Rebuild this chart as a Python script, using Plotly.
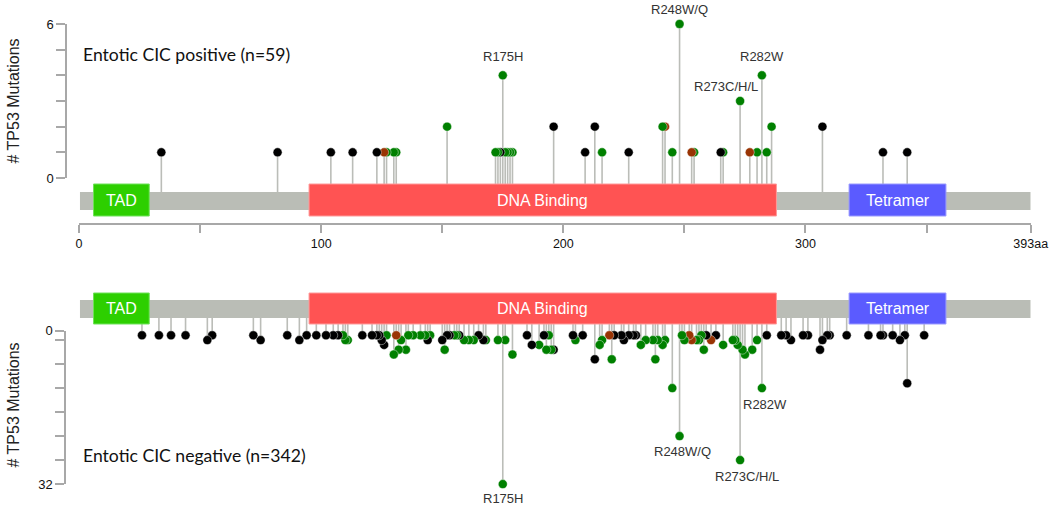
import plotly.graph_objects as go

# ---------------- data ----------------
PROTEIN_LEN = 393
DOMAIN_NAMES = ["TAD", "DNA Binding", "Tetramer"]
DOMAIN_START = [6, 95, 318]
DOMAIN_END = [29, 288, 358]
DOMAIN_COLORS = ["#2dcf00", "#ff5353", "#5b5bff"]
DOMAIN_EDGES = ["#6fe25a", "#ff9a9a", "#9a9aff"]

X_TICKVALS = [0, 50, 100, 150, 200, 250, 300, 350, 393]
X_TICKTEXT = ["0", "", "100", "", "200", "", "300", "", "393aa"]

# Entotic CIC positive (n=59): position, count, type (M=missense, T=truncating, I=inframe)
TOP_POS = [34, 82, 104, 113, 123, 126, 127, 130, 131, 152, 172, 173, 174, 175, 176, 177, 178, 179,
           196, 209, 213, 216, 227, 241, 242, 245, 248, 253, 254, 265, 266, 273, 277, 280, 282,
           284, 286, 307, 332, 342]
TOP_CNT = [1, 1, 1, 1, 1, 1, 1, 1, 1, 2, 1, 1, 1, 4, 1, 1, 1, 1,
           2, 1, 2, 1, 1, 2, 2, 1, 6, 1, 1, 1, 1, 3, 1, 1, 4,
           1, 2, 2, 1, 1]
TOP_TYPE = ["T", "T", "T", "T", "T", "I", "M", "M", "M", "M", "M", "M", "T", "M", "M", "M", "M", "M",
            "T", "T", "T", "M", "T", "M", "I", "M", "M", "I", "M", "T", "M", "M", "I", "M", "M",
            "M", "M", "T", "T", "T"]
TOP_LABELS = ["R175H", "R248W/Q", "R273C/H/L", "R282W"]
TOP_LABEL_POS = [175, 248, 273, 282]

# Entotic CIC negative (n=342)
BOT_POS = [26, 33, 38, 44, 53, 55, 72, 75, 86, 91, 94, 98, 102, 105, 107, 109, 110, 111, 117, 121,
           123, 124, 125, 126, 127, 130, 131, 132, 133, 135, 136, 138, 141, 143, 144, 145, 150, 151,
           152, 153, 155, 156, 157, 159, 161, 163, 165, 167, 168, 173, 175, 176, 179, 185, 187, 190,
           192, 193, 194, 195, 196, 204, 205, 208, 213, 215, 216, 219, 220, 221, 224, 225, 227, 229,
           230, 232, 234, 237, 238, 239, 241, 242, 245, 248, 249, 250, 252, 253, 255, 256, 257, 258,
           259, 261, 263, 266, 270, 271, 272, 273, 274, 275, 278, 280, 282, 284, 290, 292, 294, 299,
           301, 306, 307, 309, 310, 317, 326, 331, 332, 336, 339, 341, 342, 349]
BOT_CNT = [1, 1, 1, 1, 2, 1, 1, 2, 1, 2, 1, 1, 1, 1, 1, 1, 2, 2, 1, 1,
           1, 1, 2, 3, 1, 5, 1, 4, 2, 4, 1, 1, 1, 1, 2, 1, 2, 4,
           1, 1, 1, 1, 1, 2, 2, 2, 1, 2, 2, 2, 32, 2, 5, 1, 3, 3,
           1, 4, 1, 4, 4, 1, 2, 1, 6, 3, 2, 1, 6, 1, 1, 2, 1, 1,
           1, 3, 2, 2, 6, 2, 3, 2, 12, 22, 1, 2, 1, 2, 2, 2, 1, 4,
           1, 2, 1, 3, 2, 2, 3, 27, 4, 5, 4, 2, 12, 1, 1, 1, 2, 1,
           1, 4, 2, 1, 1, 1, 1, 1, 1, 1, 2, 1, 11, 1]
BOT_TYPE = ["T", "T", "T", "T", "T", "T", "T", "T", "T", "T", "T", "T", "T", "T", "T", "M", "M", "M", "T", "T",
            "T", "T", "T", "T", "M", "M", "I", "M", "M", "M", "M", "M", "M", "M", "T", "M", "T", "M",
            "T", "T", "M", "M", "T", "M", "M", "M", "T", "T", "M", "M", "M", "M", "M", "T", "T", "M",
            "T", "M", "M", "M", "T", "T", "M", "T", "T", "M", "M", "I", "M", "T", "T", "T", "T", "T",
            "T", "M", "M", "M", "M", "M", "M", "M", "M", "M", "M", "M", "I", "I", "M", "M", "M", "M",
            "T", "I", "T", "M", "M", "M", "M", "M", "M", "M", "M", "M", "M", "T", "T", "T", "T", "T",
            "T", "T", "T", "T", "T", "T", "T", "T", "T", "T", "T", "T", "T", "T"]
BOT_LABELS = ["R175H", "R248W/Q", "R273C/H/L", "R282W"]
BOT_LABEL_POS = [175, 248, 273, 282]

TYPE_COLORS = {"M": "#008000", "T": "#000000", "I": "#993404"}

# ---------------- layout geometry (reference pixels) ----------------
W, H = 1050, 509
XL, XR = 79, 1030.7
def fx(px): return px / W
def fy(py): return 1 - py / H

# top panel
T_ZERO, T_UNIT = 178.0, 25.667
def tv(py): return (T_ZERO - py) / T_UNIT
# bottom panel
B_ZERO, B_UNIT = 330.5, 4.8
def bv(py): return (py - B_ZERO) / B_UNIT

AXC = "#a8a8a8"
FONT = "Arial, Liberation Sans, sans-serif"
STEM = "#bbbdb8"

fig = go.Figure()

def stems(pos, cnt, base):
    xs, ys = [], []
    for p, c in zip(pos, cnt):
        xs += [p, p, None]
        ys += [base, c, None]
    return xs, ys

def ordered(pos, cnt, typ):
    idx = sorted(range(len(pos)), key=lambda i: -pos[i])
    return ([pos[i] for i in idx], [cnt[i] for i in idx], [TYPE_COLORS[typ[i]] for i in idx])

# top stems (drawing axes x/y)
sx, sy = stems(TOP_POS, TOP_CNT, tv(201))
fig.add_trace(go.Scatter(x=sx, y=sy, mode="lines", line=dict(color=STEM, width=1.6),
                         xaxis="x", yaxis="y", hoverinfo="skip", showlegend=False))
# top heads (display axes x2/y2)
px_, py_, pc_ = ordered(TOP_POS, TOP_CNT, TOP_TYPE)
fig.add_trace(go.Scatter(x=px_, y=py_, mode="markers", cliponaxis=False,
                         marker=dict(size=9, color=pc_, line=dict(color="rgba(255,255,255,0.7)", width=0.6)),
                         xaxis="x2", yaxis="y2", showlegend=False))

# bottom stems (x3/y3)
sx, sy = stems(BOT_POS, BOT_CNT, bv(309))
fig.add_trace(go.Scatter(x=sx, y=sy, mode="lines", line=dict(color=STEM, width=1.6),
                         xaxis="x3", yaxis="y3", hoverinfo="skip", showlegend=False))
px_, py_, pc_ = ordered(BOT_POS, BOT_CNT, BOT_TYPE)
fig.add_trace(go.Scatter(x=px_, y=py_, mode="markers", cliponaxis=False,
                         marker=dict(size=9, color=pc_, line=dict(color="rgba(255,255,255,0.7)", width=0.6)),
                         xaxis="x4", yaxis="y4", showlegend=False))

shapes, ann = [], []
# protein backbones and domains
for xref, yref, conv, gy, dy in [("x", "y", tv, (192, 210), (184, 216)),
                                 ("x3", "y3", bv, (300, 318), (293, 324))]:
    shapes.append(dict(type="rect", xref=xref, yref=yref, x0=0.4, x1=PROTEIN_LEN,
                       y0=conv(gy[0]), y1=conv(gy[1]), fillcolor="#babdb6",
                       line=dict(width=0), layer="above"))
    for name, s, e, c, ec in zip(DOMAIN_NAMES, DOMAIN_START, DOMAIN_END, DOMAIN_COLORS, DOMAIN_EDGES):
        shapes.append(dict(type="rect", xref=xref, yref=yref, x0=s, x1=e,
                           y0=conv(dy[0]), y1=conv(dy[1]), fillcolor=c,
                           line=dict(width=1, color=ec), layer="above"))
        ann.append(dict(x=(s + e) / 2, y=conv((dy[0] + dy[1]) / 2), xref=xref, yref=yref,
                        text=name, showarrow=False, font=dict(family=FONT, size=16, color="white")))

# mutation labels
top_off = {175: (0, 19), 248: (0, 14), 273: (-14, 14), 282: (0, 19)}
for lab, p in zip(TOP_LABELS, TOP_LABEL_POS):
    c = TOP_CNT[TOP_POS.index(p)]
    dx, dy = top_off[p]
    ann.append(dict(x=p, y=c, xref="x2", yref="y2", text=lab, showarrow=False,
                    xshift=dx, yshift=dy, font=dict(family=FONT, size=13, color="#333333")))
bot_off = {175: (0, -14), 248: (3, -15), 273: (7, -16), 282: (3, -16)}
for lab, p in zip(BOT_LABELS, BOT_LABEL_POS):
    c = BOT_CNT[BOT_POS.index(p)]
    dx, dy = bot_off[p]
    ann.append(dict(x=p, y=c, xref="x4", yref="y4", text=lab, showarrow=False,
                    xshift=dx, yshift=dy, font=dict(family=FONT, size=13, color="#333333")))

# panel titles
TITLE_FONT = dict(family="Lato, Open Sans, sans-serif", size=17.6, color="#111111")
ann.append(dict(x=fx(81), y=fy(54), xref="paper", yref="paper", xanchor="left", yanchor="middle",
                text="Entotic CIC positive (n=59)", showarrow=False, font=TITLE_FONT))
ann.append(dict(x=fx(81), y=fy(455), xref="paper", yref="paper", xanchor="left", yanchor="middle",
                text="Entotic CIC negative (n=342)", showarrow=False, font=TITLE_FONT))
# y axis titles
for yc in (101, 405):
    ann.append(dict(x=fx(12.5), y=fy(yc), xref="paper", yref="paper", xanchor="center", yanchor="middle",
                    text="# TP53 Mutations", textangle=-90, showarrow=False,
                    font=dict(family=FONT, size=16, color="#222222")))

xdom = [fx(XL), fx(XR)]
hidden = dict(visible=False, showgrid=False, zeroline=False, automargin=False)
YTICKFONT = dict(family=FONT, size=13, color="#111111")

fig.update_layout(
    template="none",
    width=W, height=H, margin=dict(l=0, r=0, t=0, b=0, pad=0, autoexpand=False),
    paper_bgcolor="white", plot_bgcolor="rgba(0,0,0,0)",
    showlegend=False, shapes=shapes, annotations=ann,
    xaxis=dict(domain=xdom, range=[0, PROTEIN_LEN], anchor="y", showgrid=False, zeroline=False,
               automargin=False, showline=True, linecolor=AXC, linewidth=1.5, ticks="outside",
               ticklen=8, tickwidth=1.5, tickcolor=AXC, tickvals=X_TICKVALS, ticktext=X_TICKTEXT,
               tickfont=dict(family=FONT, size=12.5, color="#111111")),
    yaxis=dict(domain=[fy(223), fy(5)], range=[tv(223), tv(5)], **hidden),
    xaxis2=dict(domain=xdom, range=[0, PROTEIN_LEN], anchor="y2", **hidden),
    yaxis2=dict(domain=[fy(T_ZERO), fy(T_ZERO - 6 * T_UNIT)], range=[0, 6], anchor="free",
                position=fx(66), showgrid=False, zeroline=False, automargin=False, showline=True,
                linecolor=AXC, linewidth=1.5, ticks="outside", ticklen=9, tickwidth=1.5, tickcolor=AXC,
                tickvals=[0, 1, 2, 3, 4, 5, 6], ticktext=["0", "", "", "", "", "", "6"],
                tickfont=YTICKFONT),
    xaxis3=dict(domain=xdom, range=[0, PROTEIN_LEN], anchor="y3", **hidden),
    yaxis3=dict(domain=[fy(505), fy(285)], range=[bv(505), bv(285)], **hidden),
    xaxis4=dict(domain=xdom, range=[0, PROTEIN_LEN], anchor="y4", **hidden),
    yaxis4=dict(domain=[fy(B_ZERO + 32 * B_UNIT), fy(B_ZERO)], range=[32, 0], anchor="free",
                position=fx(65), showgrid=False, zeroline=False, automargin=False, showline=True,
                linecolor=AXC, linewidth=1.5, ticks="outside", ticklen=9, tickwidth=1.5, tickcolor=AXC,
                tickvals=[0, 2, 7, 12, 17, 22, 27, 32], ticktext=["0", "", "", "", "", "", "", "32"],
                tickfont=YTICKFONT),
)

PAGE_JS = ("document.documentElement.style.margin='0';document.body.style.margin='0';"
           "document.body.style.padding='0';document.documentElement.style.overflow='hidden';"
           "document.body.style.overflow='hidden';")
fig.write_html("out.html", post_script=PAGE_JS, config={"displayModeBar": False})
